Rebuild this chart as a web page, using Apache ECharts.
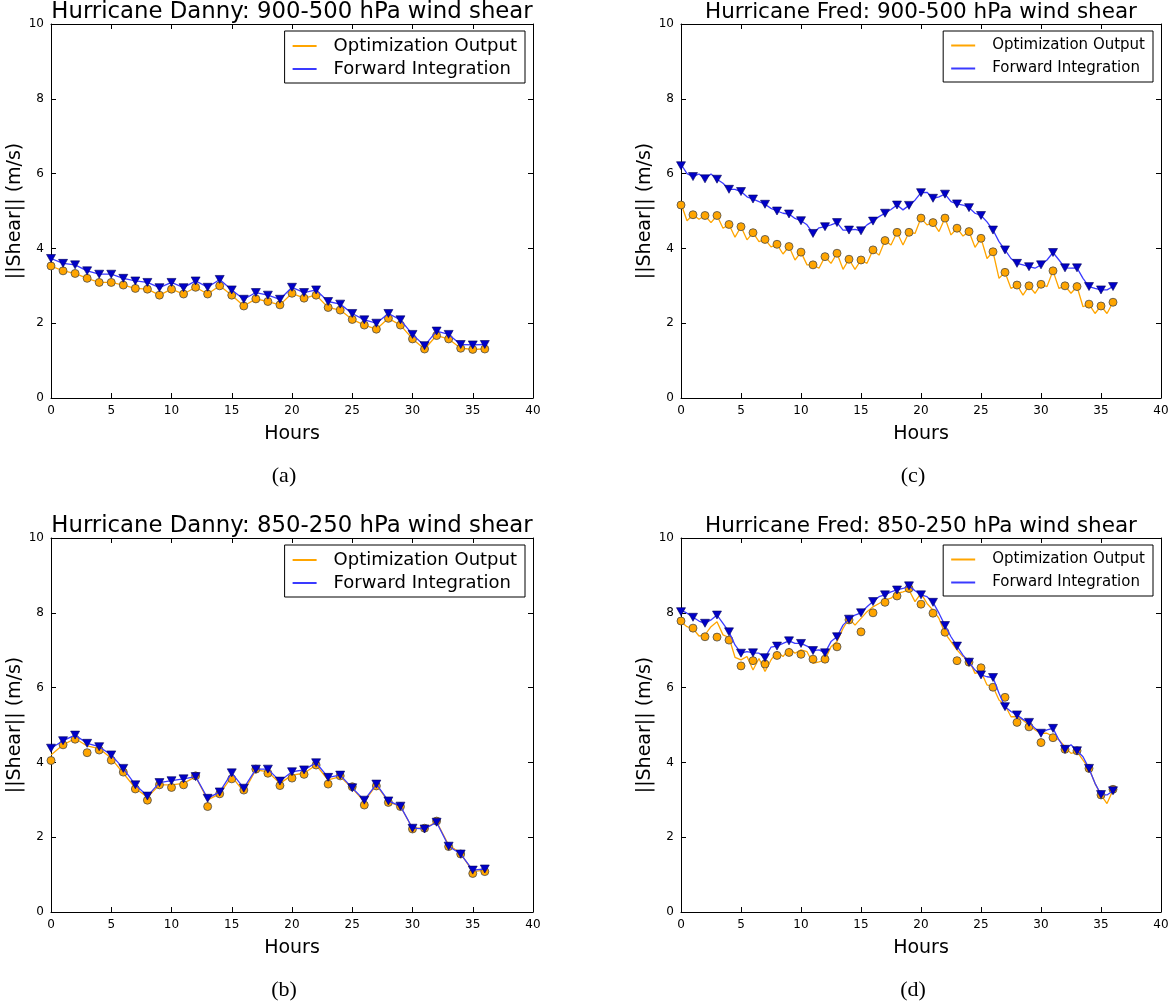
<!DOCTYPE html>
<html>
<head>
<meta charset="utf-8">
<script src="https://cdn.jsdelivr.net/npm/echarts@6/dist/echarts.min.js"></script>
<style>
  html, body { margin: 0; padding: 0; background: #ffffff; }
  #chart { width: 1176px; height: 1008px; }
</style>
</head>
<body>
<div id="chart"></div>
<script>
// ---- Hurricane Danny, 900-500 hPa (hourly) ----
const dannyUpperOpt = [3.53,3.40,3.33,3.20,3.09,3.09,3.02,2.93,2.91,2.75,2.91,2.78,2.96,2.78,3.00,2.75,2.46,2.65,2.58,2.49,2.80,2.67,2.75,2.42,2.35,2.10,1.95,1.84,2.13,1.95,1.58,1.31,1.67,1.58,1.33,1.30,1.31];
const dannyUpperFwd = [3.73,3.60,3.56,3.40,3.31,3.31,3.20,3.13,3.09,2.95,3.09,2.95,3.13,2.96,3.17,2.89,2.64,2.82,2.75,2.64,2.96,2.82,2.89,2.58,2.51,2.26,2.09,2.00,2.26,2.09,1.70,1.40,1.79,1.70,1.43,1.42,1.43];

// ---- Hurricane Danny, 850-250 hPa (hourly) ----
const dannyLowerOptMarks = [4.05,4.47,4.62,4.26,4.33,4.06,3.74,3.29,2.99,3.40,3.33,3.40,3.64,2.82,3.16,3.56,3.26,3.82,3.71,3.38,3.58,3.68,3.93,3.42,3.64,3.35,2.86,3.37,2.93,2.82,2.22,2.24,2.43,1.75,1.55,1.03,1.08];
const dannyLowerOptLine  = [4.20,4.47,4.64,4.44,4.37,4.11,3.71,3.31,3.07,3.40,3.40,3.44,3.62,3.00,3.16,3.62,3.22,3.80,3.75,3.44,3.66,3.71,3.93,3.53,3.62,3.31,2.95,3.40,2.95,2.82,2.24,2.24,2.41,1.79,1.57,1.08,1.12];
const dannyLowerFwd      = [4.38,4.58,4.73,4.51,4.42,4.20,3.84,3.40,3.10,3.46,3.51,3.56,3.62,3.04,3.21,3.72,3.31,3.82,3.82,3.50,3.75,3.80,3.99,3.60,3.66,3.32,2.99,3.42,2.97,2.83,2.24,2.22,2.40,1.76,1.55,1.12,1.15];

// ---- Hurricane Fred, 900-500 hPa: hourly marks, half-hourly lines ----
const fredUpperOptMarks = [5.16,4.90,4.88,4.88,4.64,4.58,4.42,4.24,4.11,4.05,3.90,3.56,3.78,3.87,3.71,3.69,3.96,4.21,4.43,4.43,4.81,4.69,4.81,4.54,4.45,4.27,3.91,3.36,3.02,3.00,3.04,3.40,3.00,2.98,2.51,2.46,2.56];
const fredUpperFwdMarks = [6.21,5.92,5.86,5.85,5.58,5.52,5.32,5.18,5.00,4.92,4.74,4.40,4.58,4.69,4.49,4.47,4.73,4.94,5.16,5.15,5.49,5.34,5.45,5.19,5.09,4.88,4.49,3.96,3.60,3.51,3.56,3.89,3.48,3.48,2.98,2.89,2.98];
const fredUpperOptLine = [5.20,4.74,4.90,4.78,4.88,4.69,4.88,4.54,4.64,4.30,4.58,4.23,4.42,4.18,4.24,4.04,4.11,3.85,4.05,3.69,3.90,3.56,3.56,3.47,3.78,3.60,3.87,3.44,3.71,3.44,3.69,3.60,3.96,3.82,4.21,4.09,4.43,4.09,4.43,4.40,4.81,4.63,4.69,4.45,4.81,4.36,4.54,4.33,4.45,4.03,4.27,3.73,3.91,3.20,3.36,2.93,3.02,2.75,3.00,2.80,3.04,2.98,3.40,2.93,3.00,2.80,2.98,2.44,2.51,2.26,2.46,2.26,2.56];
const fredUpperFwdLine = [6.25,6.00,5.92,5.99,5.86,5.99,5.85,5.74,5.58,5.58,5.52,5.38,5.32,5.25,5.18,5.07,5.00,4.94,4.92,4.80,4.74,4.63,4.40,4.55,4.58,4.63,4.69,4.49,4.49,4.51,4.47,4.63,4.73,4.85,4.94,5.04,5.16,5.03,5.15,5.29,5.49,5.50,5.34,5.38,5.45,5.25,5.19,5.16,5.09,4.94,4.88,4.71,4.49,4.18,3.96,3.73,3.60,3.56,3.51,3.47,3.56,3.69,3.89,3.69,3.48,3.47,3.48,3.20,2.98,2.93,2.89,2.89,2.98];

// ---- Hurricane Fred, 850-250 hPa: hourly marks, half-hourly lines ----
const fredLowerOptMarks = [7.78,7.59,7.36,7.35,7.27,6.58,6.72,6.63,6.86,6.94,6.89,6.76,6.76,7.09,7.81,7.49,8.00,8.28,8.45,8.65,8.23,7.99,7.48,6.72,6.68,6.53,6.01,5.74,5.07,4.95,4.53,4.66,4.35,4.31,3.84,3.13,3.28];
const fredLowerFwdMarks = [8.03,7.88,7.72,7.94,7.49,6.92,6.93,6.80,7.11,7.25,7.18,6.99,6.93,7.36,7.83,8.00,8.30,8.48,8.61,8.72,8.48,8.28,7.66,7.11,6.68,6.34,6.27,5.49,5.27,5.07,4.78,4.91,4.35,4.31,3.84,3.14,3.24];
const fredLowerOptLine = [7.76,7.63,7.58,7.38,7.41,7.63,7.76,7.41,7.34,6.81,6.74,6.83,6.47,6.78,6.43,6.74,6.96,6.83,7.05,6.92,7.01,6.96,6.65,6.69,6.74,7.09,7.23,7.58,7.85,7.67,7.85,8.03,8.16,8.25,8.34,8.39,8.52,8.56,8.61,8.30,8.52,8.25,8.07,7.85,7.45,7.23,7.01,6.83,6.74,6.38,6.43,6.07,6.02,5.67,5.53,5.22,5.22,5.13,5.00,4.87,4.78,4.78,4.69,4.60,4.42,4.24,4.29,4.06,3.84,3.44,3.13,2.90,3.26];
const fredLowerFwdLine = [8.07,7.99,7.88,7.78,7.72,7.81,7.94,7.72,7.49,7.14,6.92,6.96,6.93,6.92,6.80,7.08,7.11,7.18,7.25,7.18,7.18,7.11,6.99,7.01,6.93,7.23,7.36,7.67,7.83,7.94,8.00,8.16,8.30,8.43,8.48,8.56,8.61,8.65,8.72,8.59,8.48,8.43,8.28,7.99,7.66,7.36,7.11,6.87,6.68,6.47,6.34,6.29,6.27,5.85,5.49,5.36,5.27,5.15,5.07,4.91,4.78,4.87,4.91,4.60,4.35,4.47,4.31,4.15,3.84,3.44,3.14,3.13,3.24];

// axis ticks
const xTicks = [0, 5, 10, 15, 20, 25, 30, 35, 40];
const yTicks = [0, 2, 4, 6, 8, 10];

const OPT_NAME = 'Optimization Output';
const FWD_NAME = 'Forward Integration';

// the Danny column uses slightly larger title and legend type than the Fred column
const dannyType = { title: 22.8, legend: 18, legendGap: 5, legendPad: [6, 8, 5, 8] };
const fredType  = { title: 21.5, legend: 15, legendGap: 8, legendPad: [7, 8, 6, 8] };

const panels = [
  { title: 'Hurricane Danny: 900-500 hPa wind shear', caption: '(a)', type: dannyType,
    optLine: dannyUpperOpt, optStep: 1, fwdLine: dannyUpperFwd, fwdStep: 1,
    optMarks: dannyUpperOpt, fwdMarks: dannyUpperFwd,
    box: { left: 51, top: 24, width: 482, height: 374 } },
  { title: 'Hurricane Fred: 900-500 hPa wind shear', caption: '(c)', type: fredType,
    optLine: fredUpperOptLine, optStep: 0.5, fwdLine: fredUpperFwdLine, fwdStep: 0.5,
    optMarks: fredUpperOptMarks, fwdMarks: fredUpperFwdMarks,
    box: { left: 681, top: 24, width: 480, height: 374 } },
  { title: 'Hurricane Danny: 850-250 hPa wind shear', caption: '(b)', type: dannyType,
    optLine: dannyLowerOptLine, optStep: 1, fwdLine: dannyLowerFwd, fwdStep: 1,
    optMarks: dannyLowerOptMarks, fwdMarks: dannyLowerFwd,
    box: { left: 51, top: 538, width: 482, height: 374 } },
  { title: 'Hurricane Fred: 850-250 hPa wind shear', caption: '(d)', type: fredType,
    optLine: fredLowerOptLine, optStep: 0.5, fwdLine: fredLowerFwdLine, fwdStep: 0.5,
    optMarks: fredLowerOptMarks, fwdMarks: fredLowerFwdMarks,
    box: { left: 681, top: 538, width: 480, height: 374 } }
];

const FONT = 'DejaVu Sans, sans-serif';
const ORANGE = '#ffa500';
const BLUE_LINE = '#3a3aff';
const BLUE_MARK = '#0000c8';

function timed(values, step) {
  return values.map((v, i) => [i * step, v]);
}

const grids = [], xAxes = [], yAxes = [], series = [], legends = [], graphics = [];

panels.forEach((p, i) => {
  grids.push({ left: p.box.left, top: p.box.top, width: p.box.width, height: p.box.height, containLabel: false });

  const frame = { show: true, onZero: false, lineStyle: { color: '#000', width: 1 } };
  const tick = { show: true, inside: true, length: 5, lineStyle: { color: '#000', width: 1 } };

  // bottom / top x axes
  xAxes.push({
    gridIndex: i, type: 'value', position: 'bottom',
    min: xTicks[0], max: xTicks[xTicks.length - 1], interval: xTicks[1] - xTicks[0],
    axisLine: frame, axisTick: tick, splitLine: { show: false },
    axisLabel: { show: true, color: '#000', fontSize: 12, fontFamily: FONT, margin: 7 },
    name: 'Hours', nameLocation: 'middle', nameGap: 27,
    nameTextStyle: { color: '#000', fontSize: 19, fontFamily: FONT }
  });
  xAxes.push({
    gridIndex: i, type: 'value', position: 'top',
    min: xTicks[0], max: xTicks[xTicks.length - 1], interval: xTicks[1] - xTicks[0],
    axisLine: frame, axisTick: tick, splitLine: { show: false }, axisLabel: { show: false }
  });
  // left / right y axes
  yAxes.push({
    gridIndex: i, type: 'value', position: 'left',
    min: yTicks[0], max: yTicks[yTicks.length - 1], interval: yTicks[1] - yTicks[0],
    axisLine: frame, axisTick: tick, splitLine: { show: false },
    axisLabel: { show: true, color: '#000', fontSize: 12, fontFamily: FONT, margin: 7 },
    name: '||Shear|| (m/s)', nameLocation: 'middle', nameGap: 21, nameRotate: 90,
    nameTextStyle: { color: '#000', fontSize: 19, fontFamily: FONT }
  });
  yAxes.push({
    gridIndex: i, type: 'value', position: 'right',
    min: yTicks[0], max: yTicks[yTicks.length - 1], interval: yTicks[1] - yTicks[0],
    axisLine: frame, axisTick: tick, splitLine: { show: false }, axisLabel: { show: false }
  });

  const xi = i * 2, yi = i * 2;
  series.push({
    name: OPT_NAME, type: 'line', xAxisIndex: xi, yAxisIndex: yi,
    data: timed(p.optLine, p.optStep), symbol: 'none', smooth: false,
    lineStyle: { color: ORANGE, width: 1.3 }, itemStyle: { color: ORANGE }, z: 2
  });
  series.push({
    name: 'opt-marks-' + i, type: 'scatter', xAxisIndex: xi, yAxisIndex: yi,
    data: timed(p.optMarks, 1), symbol: 'circle', symbolSize: 8,
    itemStyle: { color: ORANGE, borderColor: '#4a4a4a', borderWidth: 0.8, opacity: 1 }, z: 3
  });
  series.push({
    name: FWD_NAME, type: 'line', xAxisIndex: xi, yAxisIndex: yi,
    data: timed(p.fwdLine, p.fwdStep), symbol: 'none', smooth: false,
    lineStyle: { color: BLUE_LINE, width: 1.3 }, itemStyle: { color: BLUE_LINE }, z: 4
  });
  series.push({
    name: 'fwd-marks-' + i, type: 'scatter', xAxisIndex: xi, yAxisIndex: yi,
    data: timed(p.fwdMarks, 1), symbol: 'triangle', symbolRotate: 180, symbolSize: [9, 8],
    itemStyle: { color: BLUE_MARK, borderColor: '#00005a', borderWidth: 0.6, opacity: 1 }, z: 5
  });

  const gridRight = p.box.left + p.box.width;
  legends.push({
    data: [OPT_NAME, FWD_NAME], orient: 'vertical',
    right: 1176 - (gridRight - 8), top: p.box.top + 7,
    backgroundColor: '#fff', borderColor: '#000', borderWidth: 1, borderRadius: 0,
    padding: p.type.legendPad, itemGap: p.type.legendGap, itemWidth: 24, itemHeight: 2, icon: 'rect',
    textStyle: { color: '#000', fontSize: p.type.legend, fontFamily: FONT, padding: [0, 0, 0, 12] },
    selectedMode: false, z: 10
  });

  const cx = p.box.left + p.box.width / 2;
  graphics.push({
    type: 'text', x: cx, y: p.box.top - 12,
    style: { text: p.title, fill: '#000', font: p.type.title + 'px ' + FONT, textAlign: 'center', textVerticalAlign: 'middle' }
  });
  graphics.push({
    type: 'text', x: cx - 8, y: p.box.top + p.box.height + 78,
    style: { text: p.caption, fill: '#000', font: '22px "Liberation Serif", "DejaVu Serif", serif', textAlign: 'center', textVerticalAlign: 'middle' }
  });
});

const chart = echarts.init(document.getElementById('chart'), null, { renderer: 'canvas' });
chart.setOption({
  backgroundColor: '#ffffff',
  animation: false,
  grid: grids,
  xAxis: xAxes,
  yAxis: yAxes,
  legend: legends,
  series: series,
  graphic: graphics,
  tooltip: { show: false }
});
</script>
</body>
</html>
